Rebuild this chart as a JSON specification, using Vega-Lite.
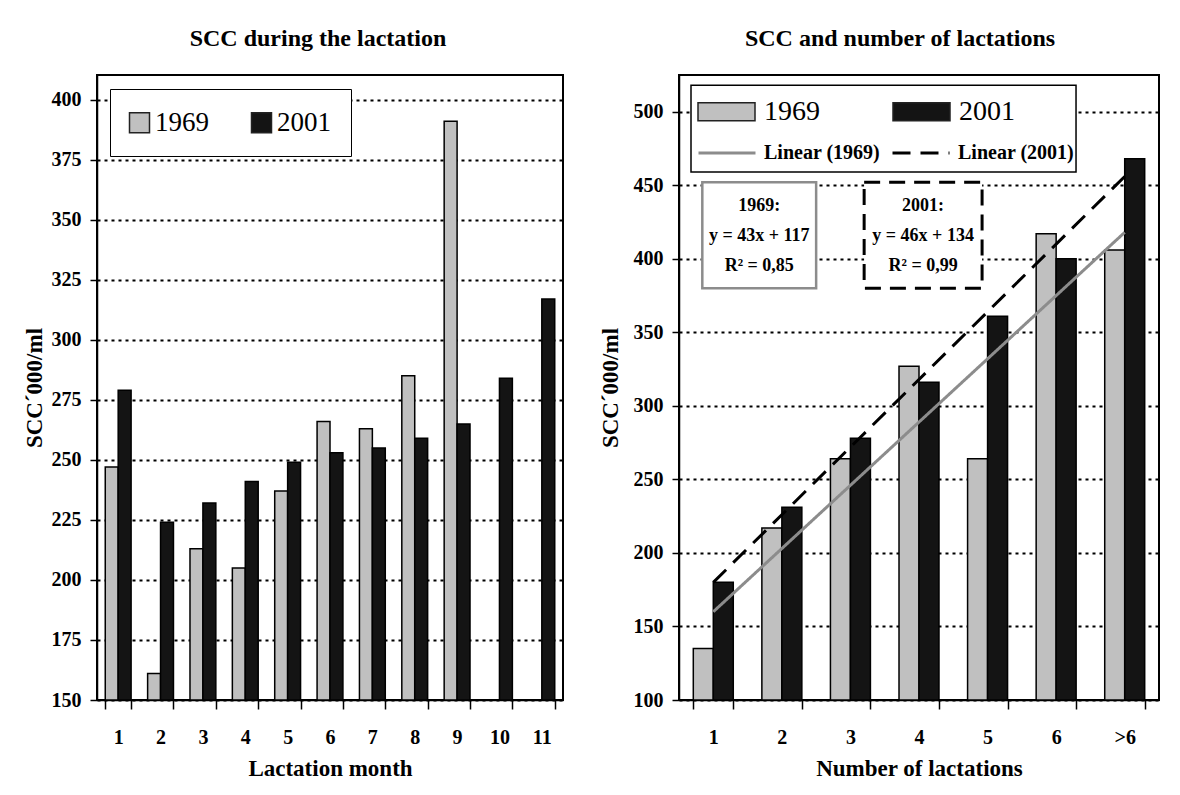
{
  "$schema": "https://vega.github.io/schema/vega-lite/v6.json",
  "background": "white",
  "padding": {"left": 22, "top": 26, "right": 18, "bottom": 12},
  "config": {
    "font": "Liberation Serif",
    "view": {"stroke": "black", "strokeWidth": 2},
    "axis": {
      "labelFont": "Liberation Serif", "labelFontWeight": "bold", "labelFontSize": 20, "labelColor": "black",
      "titleFont": "Liberation Serif", "titleFontWeight": "bold", "titleFontSize": 23, "titleColor": "black",
      "domainColor": "black", "domainWidth": 1.5, "tickColor": "black", "tickWidth": 1.5, "tickSize": 7,
      "gridColor": "black", "gridWidth": 2, "gridDash": [3, 4], "gridOpacity": 1
    },
    "axisX": {"grid": false},
    "legend": {"labelFont": "Liberation Serif"},
    "title": {"font": "Liberation Serif", "fontSize": 24, "fontWeight": "bold", "color": "black", "offset": 24, "baseline": "bottom"}
  },
  "spacing": 34,
  "resolve": {
    "scale": {"x": "independent", "y": "independent", "color": "independent", "xOffset": "independent", "stroke": "independent", "strokeDash": "independent"},
    "legend": {"color": "independent", "stroke": "independent", "strokeDash": "independent"}
  },
  "hconcat": [
    {
      "title": {"text": "SCC during the lactation", "dx": -12},
      "width": 466,
      "height": 625,
      "data": {"values": [
        {"month": "1", "year": "1969", "scc": 247}, {"month": "1", "year": "2001", "scc": 279},
        {"month": "2", "year": "1969", "scc": 161}, {"month": "2", "year": "2001", "scc": 224},
        {"month": "3", "year": "1969", "scc": 213}, {"month": "3", "year": "2001", "scc": 232},
        {"month": "4", "year": "1969", "scc": 205}, {"month": "4", "year": "2001", "scc": 241},
        {"month": "5", "year": "1969", "scc": 237}, {"month": "5", "year": "2001", "scc": 249},
        {"month": "6", "year": "1969", "scc": 266}, {"month": "6", "year": "2001", "scc": 253},
        {"month": "7", "year": "1969", "scc": 263}, {"month": "7", "year": "2001", "scc": 255},
        {"month": "8", "year": "1969", "scc": 285}, {"month": "8", "year": "2001", "scc": 259},
        {"month": "9", "year": "1969", "scc": 391}, {"month": "9", "year": "2001", "scc": 265},
        {"month": "10", "year": "2001", "scc": 284},
        {"month": "11", "year": "2001", "scc": 317}
      ]},
      "mark": {"type": "bar", "stroke": "black", "strokeWidth": 1.5},
      "encoding": {
        "x": {
          "field": "month", "type": "nominal",
          "scale": {"domain": ["1","2","3","4","5","6","7","8","9","10","11"], "paddingInner": 0.39, "paddingOuter": 0.195},
          "axis": {"title": "Lactation month", "labelAngle": 0, "tickBand": "extent", "tickSize": 9, "labelPadding": 18, "titlePadding": 10}
        },
        "xOffset": {"field": "year", "type": "nominal", "scale": {"domain": ["1969", "2001"], "paddingInner": 0, "paddingOuter": 0}},
        "y": {
          "field": "scc", "type": "quantitative",
          "scale": {"domain": [150, 410.3], "zero": false, "nice": false},
          "axis": {"title": "SCC´000/ml", "values": [150,175,200,225,250,275,300,325,350,375,400], "grid": true, "labelPadding": 9, "titlePadding": 5}
        },
        "y2": {"datum": 150},
        "color": {
          "field": "year", "type": "nominal",
          "scale": {"domain": ["1969", "2001"], "range": ["#c0c0c0", "#141414"]},
          "legend": {
            "title": null, "orient": "none", "legendX": 13, "legendY": 14, "direction": "horizontal", "columns": 2,
            "symbolType": "square", "symbolSize": 400, "symbolStrokeColor": "#222222", "symbolStrokeWidth": 1.5, "symbolOpacity": 1,
            "symbolOffset": -4,
            "labelFont": "Liberation Serif", "labelFontSize": 27, "labelFontWeight": "normal", "labelColor": "black",
            "labelOffset": 2, "columnPadding": 39, "padding": 20, "strokeColor": "black", "fillColor": "white"
          }
        }
      }
    },
    {
      "title": {"text": "SCC and number of lactations", "dx": -19},
      "width": 480,
      "height": 625,
      "resolve": {"scale": {"x": "independent"}},
      "layer": [
        {
          "layer": [
            {
              "data": {"values": [
                {"cat": "1", "year": "1969", "scc": 135}, {"cat": "1", "year": "2001", "scc": 180},
                {"cat": "2", "year": "1969", "scc": 217}, {"cat": "2", "year": "2001", "scc": 231},
                {"cat": "3", "year": "1969", "scc": 264}, {"cat": "3", "year": "2001", "scc": 278},
                {"cat": "4", "year": "1969", "scc": 327}, {"cat": "4", "year": "2001", "scc": 316},
                {"cat": "5", "year": "1969", "scc": 264}, {"cat": "5", "year": "2001", "scc": 361},
                {"cat": "6", "year": "1969", "scc": 417}, {"cat": "6", "year": "2001", "scc": 400},
                {"cat": ">6", "year": "1969", "scc": 406}, {"cat": ">6", "year": "2001", "scc": 468}
              ]},
              "mark": {"type": "bar", "stroke": "black", "strokeWidth": 1.5},
              "encoding": {
                "x": {
                  "field": "cat", "type": "nominal",
                  "scale": {"domain": ["1","2","3","4","5","6",">6"], "paddingInner": 0.417, "paddingOuter": 0.2085},
                  "axis": {"title": "Number of lactations", "labelAngle": 0, "tickBand": "extent", "tickSize": 9, "labelPadding": 18, "titlePadding": 10}
                },
                "xOffset": {"field": "year", "type": "nominal", "scale": {"domain": ["1969", "2001"], "paddingInner": 0, "paddingOuter": 0}},
                "y": {
                  "field": "scc", "type": "quantitative",
                  "scale": {"domain": [100, 525], "zero": false, "nice": false},
                  "axis": {"title": "SCC´000/ml", "values": [100,150,200,250,300,350,400,450,500], "grid": true, "labelPadding": 9, "titlePadding": 11}
                },
                "y2": {"datum": 100},
                "color": {
                  "field": "year", "type": "nominal",
                  "scale": {"domain": ["1969", "2001"], "range": ["#c0c0c0", "#141414"]},
                  "legend": {
                    "title": null, "orient": "none", "legendX": 18, "legendY": 7, "direction": "horizontal", "columns": 2,
                    "symbolType": "M-1,-0.32H1V0.32H-1Z", "symbolSize": 3249, "symbolStrokeColor": "#222222", "symbolStrokeWidth": 1.5, "symbolOpacity": 1,
                    "labelFont": "Liberation Serif", "labelFontSize": 28, "labelFontWeight": "normal", "labelColor": "black",
                    "labelOffset": 8, "columnPadding": 70, "padding": 0
                  }
                }
              }
            },
            {
              "data": {"values": [
                {"cat": "1", "scc": 160, "series": "Linear (1969)"},
                {"cat": ">6", "scc": 418, "series": "Linear (1969)"},
                {"cat": "1", "scc": 180, "series": "Linear (2001)"},
                {"cat": ">6", "scc": 456, "series": "Linear (2001)"}
              ]},
              "mark": {"type": "line", "strokeWidth": 3},
              "encoding": {
                "x": {"field": "cat", "type": "nominal"},
                "y": {"field": "scc", "type": "quantitative", "scale": {"domain": [100, 525], "zero": false, "nice": false}},
                "stroke": {
                  "field": "series", "type": "nominal",
                  "scale": {"domain": ["Linear (1969)", "Linear (2001)"], "range": ["#8c8c8c", "#000000"]},
                  "legend": {
                    "title": null, "orient": "none", "legendX": 18, "legendY": 48, "direction": "horizontal", "columns": 2,
                    "symbolType": "M-1,0H1", "symbolSize": 3249, "symbolStrokeWidth": 3, "symbolOpacity": 1,
                    "labelFont": "Liberation Serif", "labelFontSize": 20, "labelFontWeight": "bold", "labelColor": "black",
                    "labelOffset": 7, "columnPadding": 5, "padding": 0
                  }
                },
                "strokeDash": {
                  "field": "series", "type": "nominal",
                  "scale": {"domain": ["Linear (1969)", "Linear (2001)"], "range": [[1, 0], [18, 10]]},
                  "legend": {
                    "title": null, "orient": "none", "legendX": 18, "legendY": 48, "direction": "horizontal", "columns": 2,
                    "symbolType": "M-1,0H1", "symbolSize": 3249, "symbolStrokeWidth": 3, "symbolOpacity": 1,
                    "labelFont": "Liberation Serif", "labelFontSize": 20, "labelFontWeight": "bold", "labelColor": "black",
                    "labelOffset": 7, "columnPadding": 5, "padding": 0
                  }
                }
              }
            }
          ]
        },
        {
          "data": {"values": [{"l1969": ["1969:", "y = 43x + 117", "R² = 0,85"], "l2001": ["2001:", "y = 46x + 134", "R² = 0,99"]}]},
          "layer": [
            {
              "mark": {"type": "rect", "fill": "white", "stroke": "black", "strokeWidth": 1.5},
              "encoding": {
                "x": {"datum": 0.175, "type": "quantitative", "scale": {"domain": [0, 7], "nice": false, "zero": false}, "axis": null},
                "x2": {"datum": 5.79},
                "y": {"datum": 518, "type": "quantitative", "scale": {"domain": [100, 525], "zero": false, "nice": false}},
                "y2": {"datum": 459}
              }
            },
            {
              "mark": {"type": "rect", "fill": "white", "stroke": "#8c8c8c", "strokeWidth": 2.5},
              "encoding": {
                "x": {"datum": 0.34, "type": "quantitative"},
                "x2": {"datum": 2.0},
                "y": {"datum": 452, "type": "quantitative"},
                "y2": {"datum": 380}
              }
            },
            {
              "mark": {"type": "rect", "fill": "white", "stroke": "black", "strokeWidth": 3, "strokeDash": [16, 9]},
              "encoding": {
                "x": {"datum": 2.7, "type": "quantitative"},
                "x2": {"datum": 4.42},
                "y": {"datum": 452, "type": "quantitative"},
                "y2": {"datum": 380}
              }
            },
            {
              "mark": {"type": "text", "font": "Liberation Serif", "fontWeight": "bold", "fontSize": 18, "lineHeight": 30, "align": "center", "baseline": "middle", "color": "black"},
              "encoding": {
                "x": {"datum": 1.17, "type": "quantitative"},
                "y": {"datum": 436, "type": "quantitative"},
                "text": {"field": "l1969"}
              }
            },
            {
              "mark": {"type": "text", "font": "Liberation Serif", "fontWeight": "bold", "fontSize": 18, "lineHeight": 30, "align": "center", "baseline": "middle", "color": "black"},
              "encoding": {
                "x": {"datum": 3.56, "type": "quantitative"},
                "y": {"datum": 436, "type": "quantitative"},
                "text": {"field": "l2001"}
              }
            }
          ]
        }
      ]
    }
  ]
}
